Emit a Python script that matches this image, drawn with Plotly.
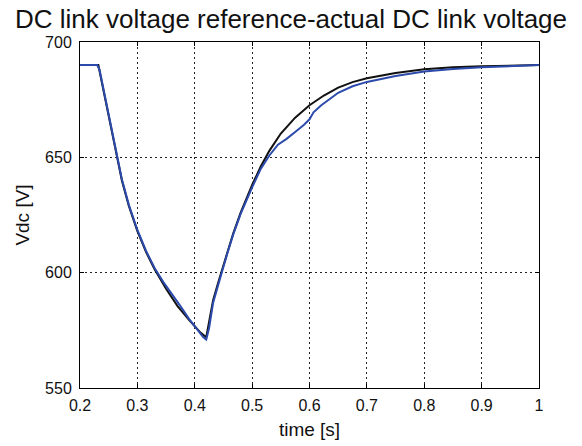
import plotly.graph_objects as go

# Reference (black) trace
t_ref = [0.2, 0.232, 0.236, 0.245, 0.255, 0.264, 0.273, 0.285, 0.3, 0.315, 0.33, 0.35,
         0.37, 0.39, 0.41, 0.42, 0.425, 0.432, 0.44, 0.447, 0.457, 0.467, 0.48, 0.49,
         0.5, 0.515, 0.53, 0.55, 0.575, 0.6, 0.625, 0.65, 0.675, 0.7, 0.75, 0.8, 0.85,
         0.9, 0.95, 1.0]
v_ref = [690, 690, 685, 674, 661, 650, 640, 629, 618, 609, 601.5, 593,
         585.5, 579.5, 574, 572, 578, 588, 595, 600.5, 609, 617, 626, 632,
         638, 646, 652.8, 660.3, 667.2, 672.6, 676.8, 680.2, 682.6, 684.3, 686.6, 688.2, 689.1,
         689.5, 689.8, 690]

# Actual (blue) trace
t_act = [0.2, 0.23, 0.234, 0.245, 0.255, 0.264, 0.273, 0.285, 0.3, 0.315, 0.33, 0.345,
         0.355, 0.362, 0.375, 0.39, 0.405, 0.415, 0.42, 0.425, 0.432, 0.44, 0.447, 0.457,
         0.467, 0.48, 0.49, 0.5, 0.515, 0.53, 0.545, 0.56, 0.575, 0.59, 0.6, 0.607, 0.62,
         0.65, 0.675, 0.7, 0.725, 0.75, 0.8, 0.85, 0.9, 0.95, 1.0]
v_act = [690, 690, 688, 674.5, 661.5, 650.5, 640.5, 629.5, 618.5, 609.5, 602, 596,
         592.5, 590.5, 585.5, 580, 575, 572, 571, 576, 587, 594.5, 600, 608.5,
         616.5, 625.5, 631.5, 637, 645, 650.8, 655.5, 658, 661, 664, 666.5, 669.5, 672.5,
         678, 680.8, 682.7, 684, 685.3, 687.2, 688.3, 689, 689.5, 690]

x_ticks = [0.2, 0.3, 0.4, 0.5, 0.6, 0.7, 0.8, 0.9, 1.0]
x_ticktext = ["0.2", "0.3", "0.4", "0.5", "0.6", "0.7", "0.8", "0.9", "1"]
y_ticks = [550, 600, 650, 700]

FONT = "Liberation Sans, Arial, sans-serif"

fig = go.Figure()
fig.add_trace(go.Scatter(x=t_ref, y=v_ref, mode="lines",
                         line=dict(color="#111111", width=2), showlegend=False))
fig.add_trace(go.Scatter(x=t_act, y=v_act, mode="lines",
                         line=dict(color="#2b4aab", width=2), showlegend=False))

axis_common = dict(
    showline=True, linecolor="black", linewidth=1, mirror="ticks",
    ticks="inside", ticklen=4, tickcolor="black",
    showgrid=True, gridcolor="#222222", gridwidth=1, griddash="2px,3px",
    zeroline=False, tickfont=dict(family=FONT, size=16, color="#111111"),
)

fig.update_layout(
    width=582, height=446,
    margin=dict(l=80, r=43, t=42, b=58, autoexpand=False),
    paper_bgcolor="white", plot_bgcolor="white",
    font=dict(family=FONT, color="#111111"),
    title=dict(text="DC link voltage reference-actual DC link voltage",
               x=0.5, xref="container", xanchor="center",
               y=1 - 19 / 446, yref="container", yanchor="middle",
               font=dict(family=FONT, size=26, color="#111111")),
    xaxis=dict(range=[0.2, 1.0], tickvals=x_ticks, ticktext=x_ticktext,
               title=dict(text="time [s]", font=dict(family=FONT, size=19), standoff=9),
               ticklabelstandoff=3, **axis_common),
    yaxis=dict(range=[550, 700], tickvals=y_ticks,
               title=dict(text="Vdc [V]", font=dict(family=FONT, size=19), standoff=10),
               ticklabelstandoff=4, **axis_common),
)

fig.write_html("out.html")
